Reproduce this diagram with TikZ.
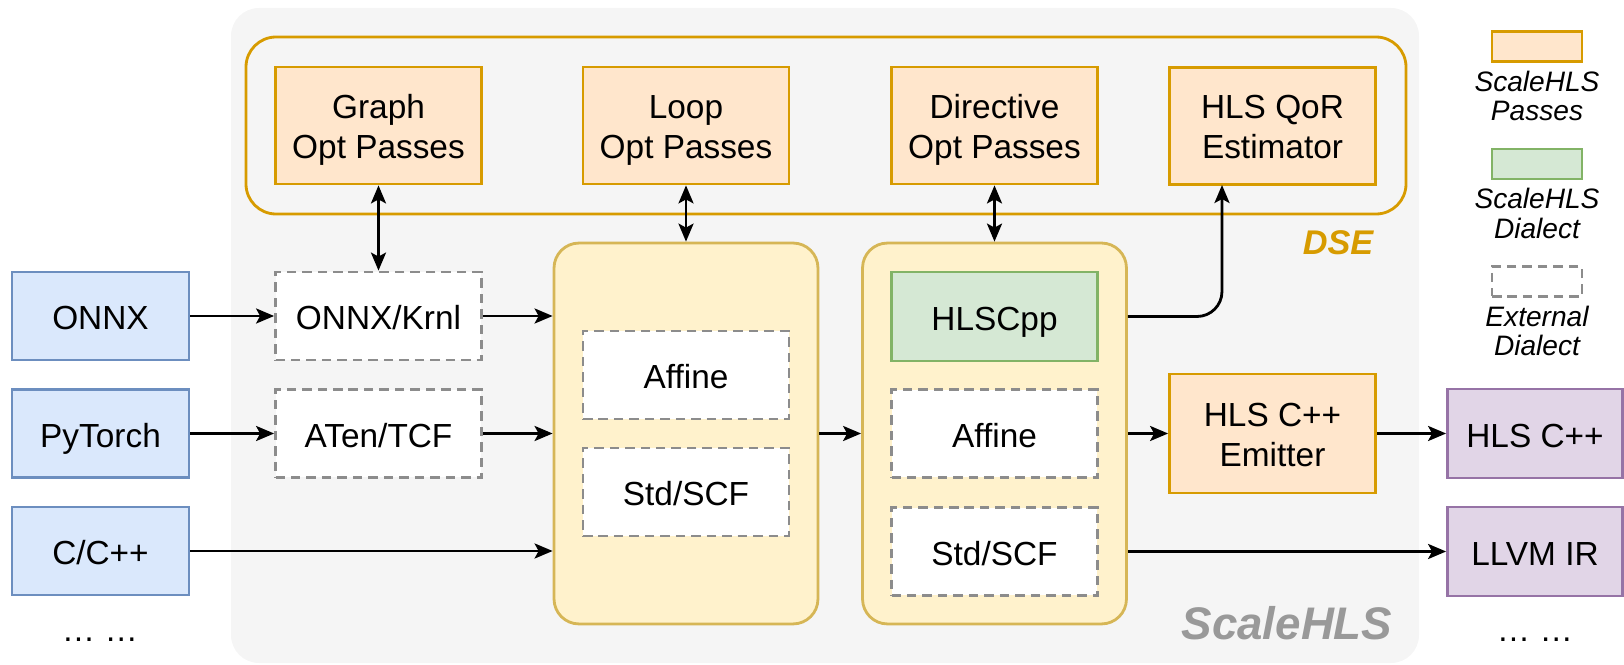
\documentclass[tikz,border=0pt]{standalone}
\usepackage{fontspec}
\setmainfont{Liberation Sans}
\usetikzlibrary{positioning,arrows.meta,calc}
\definecolor{shlsbg}{HTML}{F5F5F5}
\definecolor{passfill}{HTML}{FFE6CC}
\definecolor{passline}{HTML}{D79B00}
\definecolor{infill}{HTML}{DAE8FC}
\definecolor{inline}{HTML}{6C8EBF}
\definecolor{outfill}{HTML}{E1D5E7}
\definecolor{outline}{HTML}{9673A6}
\definecolor{dlfill}{HTML}{D5E8D4}
\definecolor{dlline}{HTML}{82B366}
\definecolor{grpfill}{HTML}{FFF2CC}
\definecolor{grpline}{HTML}{D6B656}
\definecolor{extline}{HTML}{8C8C8C}
\definecolor{namegray}{HTML}{999999}

\begin{document}
\begin{tikzpicture}[x=0.02cm,y=-0.02cm]
\tikzset{
    base/.style={
       draw, line width=1.6pt, align=center, inner sep=0pt,
       text height=17.7pt, text depth=2pt,
       font=\fontsize{19}{23}\selectfont
    },
    pass/.style={base, draw=passline, fill=passfill, text height=39.5pt,
       minimum width=4.12cm, minimum height=2.34cm},
    inbox/.style={base, draw=inline, fill=infill, minimum width=3.54cm, minimum height=1.76cm},
    outbox/.style={base, draw=outline, fill=outfill, minimum width=3.5cm, minimum height=1.78cm},
    extbox/.style={base, draw=extline, fill=white, dash pattern=on 5.4pt off 3.4pt,
       minimum width=4.12cm, minimum height=1.76cm},
    dlbox/.style={base, draw=dlline, fill=dlfill, minimum width=4.12cm, minimum height=1.78cm},
    group/.style={draw=grpline, fill=grpfill, line width=1.6pt, rounded corners=0.5cm,
       minimum width=5.28cm, minimum height=7.62cm},
    legbox/.style={draw, line width=1.6pt, minimum width=1.8cm, minimum height=0.6cm},
    legtext/.style={align=center, inner sep=0pt, font=\fontsize{16}{17}\selectfont\itshape},
    arr/.style={line width=1.6pt, -{Stealth[length=0.36cm, width=0.3cm, inset=0.08cm]}},
    biarr/.style={line width=1.6pt, {Stealth[length=0.36cm, width=0.3cm, inset=0.08cm]}-{Stealth[length=0.36cm, width=0.3cm, inset=0.08cm]}}
}
\useasboundingbox (0,0) rectangle (1624,665);
%
% ScaleHLS frame and DSE loop
\fill[shlsbg, rounded corners=0.56cm] (231,8) rectangle (1419,663);
\draw[passline, line width=1.6pt, rounded corners=0.6cm] (246,37) rectangle (1406,214);
\node[font=\fontsize{19.5}{20}\selectfont\bfseries\itshape, text=passline] (dsename) at (1338,243) {DSE};
\node[font=\fontsize{26}{26}\selectfont\bfseries\itshape, text=namegray] (shlsname) at (1287,623) {ScaleHLS};

\node[pass] (graph) at (378.5,125.5) {Graph\\Opt Passes};
\node[pass] (loop)  at (686,125.5)   {Loop\\Opt Passes};
\node[pass] (dir)   at (994.5,125.5) {Directive\\Opt Passes};
\node[pass] (qor)   at (1272.5,126)  {HLS QoR\\Estimator};

% inputs
\node[inbox] (onnx) at (100.5,316)   {ONNX};
\node[inbox] (pyt)  at (100.5,433.5) {PyTorch};
\node[inbox] (cpp)  at (100.5,551)   {C/C++};
\node[base, draw=none] (moreins) at (100,628) {… …};

\node[extbox] (onnxk) at (378.5,316)   {ONNX/Krnl};
\node[extbox] (aten)  at (378.5,433.5) {ATen/TCF};

% dialect groups
\node[group] (lyel) at (686,433.5) {};
\node[extbox] (laff) at (686,375) {Affine};
\node[extbox] (lstd) at (686,492) {Std/SCF};

\node[group] (ryel) at (994.5,433.5) {};
\node[dlbox]  (hlscpp) at (994.5,316.5) {HLSCpp};
\node[extbox] (raff)   at (994.5,433.5) {Affine};
\node[extbox] (rstd)   at (994.5,551.5) {Std/SCF};

\node[pass, minimum height=2.38cm] (emit) at (1272.5,433.5) {HLS C++\\Emitter};

% outputs
\node[outbox] (hlsout) at (1535,433.5) {HLS C++};
\node[outbox] (llvm)   at (1535,551.5) {LLVM IR};
\node[base, draw=none] (moreouts) at (1535,628) {… …};

% legend
\node[legbox, draw=passline, fill=passfill] (legpass) at (1537,46.5) {};
\node[legtext] (legpasst) at (1537,96) {ScaleHLS\\Passes};
\node[legbox, draw=dlline, fill=dlfill] (legdl) at (1537,164) {};
\node[legtext] (legdlt) at (1537,213.5) {ScaleHLS\\Dialect};
\node[legbox, draw=extline, fill=white, dash pattern=on 5.4pt off 3.4pt] (legext) at (1537,281.5) {};
\node[legtext] (legextt) at (1537,331) {External\\Dialect};

% connectors
\draw[biarr] (graph) -- (onnxk);
\draw[biarr] (loop) -- (lyel);
\draw[biarr] (dir) -- (ryel);

\draw[arr] (onnx) -- (onnxk);
\draw[arr] (onnxk) -- (onnxk -| lyel.west);
\draw[arr] (pyt) -- (aten);
\draw[arr] (aten) -- (aten -| lyel.west);
\draw[arr] (cpp) -- (cpp -| lyel.west);
\draw[arr] (lyel) -- (ryel);

\coordinate (qorin) at (1222,185);
\draw[arr, rounded corners=0.5cm] (hlscpp -| ryel.east) -| (qorin);
\draw[arr] (ryel) -- (emit);
\draw[arr] (emit) -- (hlsout);
\draw[arr] (rstd -| ryel.east) -- (llvm.west);
\end{tikzpicture}
\end{document}
